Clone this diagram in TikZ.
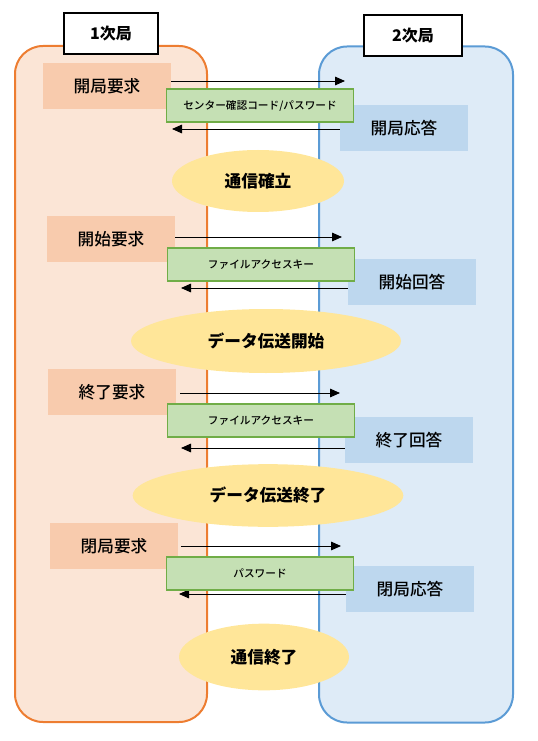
\documentclass[tikz,border=0pt]{standalone}
\usepackage{fontspec}
\setmainfont{Noto Sans CJK JP}
\newfontfamily\medfont{Noto Sans CJK JP Medium}
\usetikzlibrary{shapes.geometric,arrows.meta}

\definecolor{laneorange}{HTML}{ED7D31}
\definecolor{lanepeach}{HTML}{FBE5D6}
\definecolor{laneblue}{HTML}{5B9BD5}
\definecolor{lanesky}{HTML}{DEEBF7}
\definecolor{reqfill}{HTML}{F8CBAD}
\definecolor{resfill}{HTML}{BDD7EE}
\definecolor{keyfill}{HTML}{C5E0B4}
\definecolor{keyline}{HTML}{70AD47}
\definecolor{phasefill}{HTML}{FFE699}

\begin{document}
\begin{tikzpicture}[x=0.75pt, y=-0.75pt,
	lane/.style={draw, line width=1.5pt, rounded corners=21pt, minimum width=144pt, minimum height=507pt},
	title/.style={draw, fill=white, line width=1.5pt, minimum width=71pt, minimum height=31pt, font=\fontsize{12}{14}\selectfont\bfseries},
	req/.style={fill=reqfill, minimum width=96pt, minimum height=34.5pt, font=\fontsize{12.5}{15}\selectfont\medfont},
	res/.style={fill=resfill, minimum width=96pt, minimum height=34pt, font=\fontsize{12.5}{15}\selectfont\medfont},
	key/.style={draw=keyline, fill=keyfill, line width=1.2pt, minimum width=140pt, minimum height=24.5pt, font=\fontsize{8}{10}\selectfont\medfont},
	phase/.style={ellipse, fill=phasefill, inner sep=0pt, font=\fontsize{12.5}{15}\selectfont\bfseries},
	msg/.style={line width=0.7pt, -{Triangle[length=7.5pt,width=6.5pt]}}]
\useasboundingbox (0,0) rectangle (537,741);
\node[lane, draw=laneorange, fill=lanepeach] (sta1) at (111,384) {};
\node[lane, draw=laneblue, fill=lanesky, minimum width=145.5pt] (sta2) at (416,384.5) {};
\node[title] (t1) at (111,33.5) {1次局};
\node[title, minimum width=73.5pt] (t2) at (413,35.5) {2次局};

\node[req] (req1) at (107,86) {開局要求};
\node[req] (req2) at (111,239) {開始要求};
\node[req] (req3) at (112,392) {終了要求};
\node[req] (req4) at (114,546) {閉局要求};

\node[res] (res1) at (404,128) {開局応答};
\node[res] (res2) at (412,282) {開始回答};
\node[res] (res3) at (409,440) {終了回答};
\node[res] (res4) at (410,589) {閉局応答};

\coordinate (e1) at (345,81);
\coordinate (e2) at (342,237);
\coordinate (e3) at (340,393);
\coordinate (e4) at (341,546);
\coordinate (f1) at (172,129);
\coordinate (f2) at (181,288);
\coordinate (f3) at (181,448);
\coordinate (f4) at (179,594);
\draw[msg] (req1.east |- e1) -- (e1);
\draw[msg] (req2.east |- e2) -- (e2);
\draw[msg] ([xshift=3pt]req3.east |- e3) -- (e3);
\draw[msg] ([xshift=2pt]req4.east |- e4) -- (e4);
\draw[msg] (res1.west |- f1) -- (f1);
\draw[msg] (res2.west |- f2) -- (f2);
\draw[msg] (res3.west |- f3) -- (f3);
\draw[msg] (res4.west |- f4) -- (f4);

\node[key] (key1) at (260,105.5) {センター確認コード/パスワード};
\node[key] (key2) at (261,264.5) {ファイルアクセスキー};
\node[key] (key3) at (261,420.5) {ファイルアクセスキー};
\node[key] (key4) at (260,573.5) {パスワード};

\node[phase, minimum width=129pt, minimum height=46.5pt] (ph1) at (258,181) {通信確立};
\node[phase, minimum width=202.5pt, minimum height=48pt] (ph2) at (266,341) {データ伝送開始};
\node[phase, minimum width=203pt, minimum height=47pt] (ph3) at (268,495.5) {データ伝送終了};
\node[phase, minimum width=127.5pt, minimum height=50pt] (ph4) at (264,657) {通信終了};
\end{tikzpicture}
\end{document}
